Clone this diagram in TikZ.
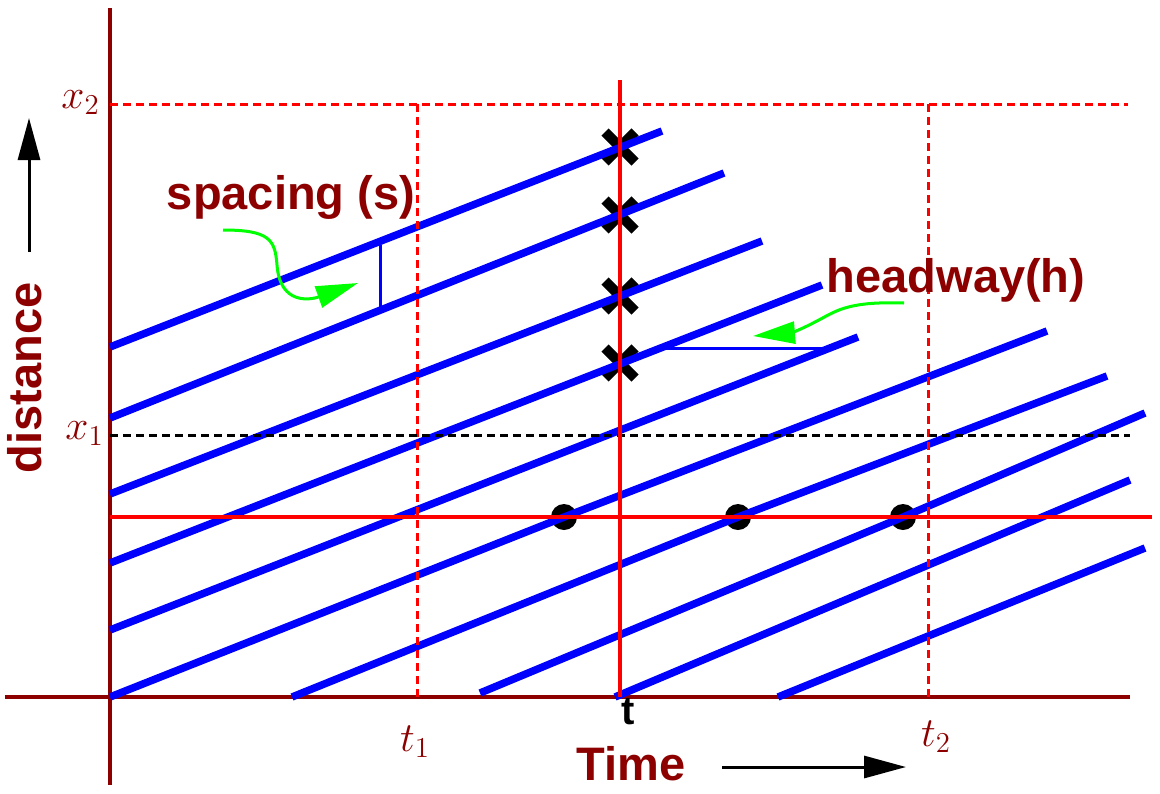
\documentclass[tikz,border=0pt]{standalone}
\usepackage{fontspec}
\setmainfont{Liberation Sans}
\usepackage{tikz}
\usetikzlibrary{arrows.meta, shapes.misc, positioning}
\definecolor{darkred}{RGB}{140,0,0}
\tikzset{
axis/.style={darkred, line width=2pt}, % the time and distance axes
car/.style={blue, line width=3.75pt}, % one vehicle trajectory
gapbar/.style={blue, line width=1.5pt}, % spacing and headway bars
guide/.style={red, line width=1.5pt, dash pattern=on 4pt off 2.5pt},
slice/.style={red, line width=2pt}, % the fixed time / fixed place lines
crossmark/.style={cross out, draw=black, line width=5pt, minimum size=10pt, inner sep=0pt},
dot/.style={circle, fill=black, inner sep=0pt, minimum size=13pt},
pointer/.style={green, line width=1.5pt, -{Triangle[length=21pt, width=11pt]}},
bigarrow/.style={black, line width=1.5pt, -{Triangle[length=21pt, width=11pt]}},
mathlbl/.style={text=darkred, font=\fontsize{20}{24}\selectfont, inner sep=0pt},
word/.style={text=darkred, font=\bfseries\fontsize{23.5}{28}\selectfont, inner sep=0pt},
}

\begin{document}
\begin{tikzpicture}[x=0.5pt, y=-0.5pt]
        \useasboundingbox (0,0) rectangle (1160,793);

        % axes
        \coordinate (yTop) at (110,8);
        \coordinate (yBot) at (110,785);
        \coordinate (xL) at (5,697);
        \coordinate (xR) at (1130,697);
        \draw[axis] (yTop) -- (yBot);
        \draw[axis] (xL) -- (xR);

        % ends of the red slices
        \coordinate (tTop) at (620,80);
        \coordinate (tBot) at (620,697);
        \coordinate (hL) at (110,517);
        \coordinate (hR) at (1152,517);

        % trajectories
        \foreach \n/\a/\b/\c/\d in {1/110/347/662/131, 2/110/418/724/173, 3/110/494/762/241,
            4/110/563/822/285, 5/110/630/858/337, 6/110/697/1047/331, 7/292/697/1107/376,
            8/480/693/1145/413, 9/615/697/1130/480, 10/778/697/1145/548}
          {\coordinate (s\n) at (\a,\b); \coordinate (e\n) at (\c,\d);}

        \node[dot] (d1) at (564,517) {};
        \node[dot] (d2) at (738,517) {};
        \node[dot] (d3) at (903,517) {};
        \foreach \n/\y in {1/147, 2/215, 3/296, 4/363}
          \node[crossmark] (c\n) at (620,\y) {};

        \foreach \n in {1,2,3,4,5,9,10}
          \draw[car] (s\n) -- (e\n);
        \draw[car] (s6) -- (d1.center) -- (e6);
        \draw[car] (s7) -- (d2.center) -- (e7);
        \draw[car] (s8) -- (d3.center) -- (e8);

        % spacing and headway
        \coordinate (spTop) at (380,245);
        \coordinate (spBot) at (380,308);
        \draw[gapbar] (spTop) -- (spBot);
        \coordinate (hwL) at (660,348);
        \coordinate (hwR) at (825,348);
        \draw[gapbar] (hwL) -- (hwR);

        % dotted guides
        \coordinate (x2L) at (110,104);
        \coordinate (x2R) at (1128,104);
        \coordinate (x1L) at (110,435);
        \coordinate (x1R) at (1130,435);
        \coordinate (t1T) at (417,104);
        \coordinate (t1B) at (417,697);
        \coordinate (t2T) at (928,104);
        \coordinate (t2B) at (928,697);
        \draw[guide] (x2L) -- (x2R);
        \draw[guide] (t1T) -- (t1B);
        \draw[guide] (t2T) -- (t2B);
        \draw[guide, black] (x1L) -- (x1R);

        \draw[slice] (tTop) -- (tBot);
        \draw[slice] (hL) -- (hR);

        % labels
        \node[mathlbl, anchor=mid east] (x2) at (100,103) {$x_2$};
        \node[mathlbl, anchor=mid east] (x1) at (104,434) {$x_1$};
        \node[mathlbl] (t1) at (415,742) {$t_1$};
        \node[mathlbl] (t2) at (936,737) {$t_2$};
        \node[word, text=black, font=\bfseries\fontsize{20}{24}\selectfont] (tNow) at (628,712) {t};
        \node[word] (timeLbl) at (631,764) {Time};
        \node[word, rotate=90] (distLbl) at (25,378) {distance};
        \node[word] (spacingLbl) at (291,197) {spacing (s)};
        \node[word] (headwayLbl) at (956,280) {headway(h)};

        % pointers
        \coordinate (spTail) at (223,230);
        \coordinate (spTip) at (358,283);
        \draw[pointer] (spTail) .. controls (270,230) and (275,240) .. (277,265)
          .. controls (280,305) and (310,300) .. (spTip);
        \coordinate (hwTail) at (904,303);
        \coordinate (hwTip) at (753,336);
        \draw[pointer] (hwTail) .. controls (845,301) and (835,312) .. (815,322)
          .. controls (800,330) and (790,333) .. (hwTip);

        \coordinate (dBot) at (29,252);
        \coordinate (dTop) at (29,118);
        \draw[bigarrow] (dBot) -- (dTop);
        \coordinate (tmL) at (722,767);
        \coordinate (tmR) at (906,767);
        \draw[bigarrow] (tmL) -- (tmR);
      \end{tikzpicture}
\end{document}
